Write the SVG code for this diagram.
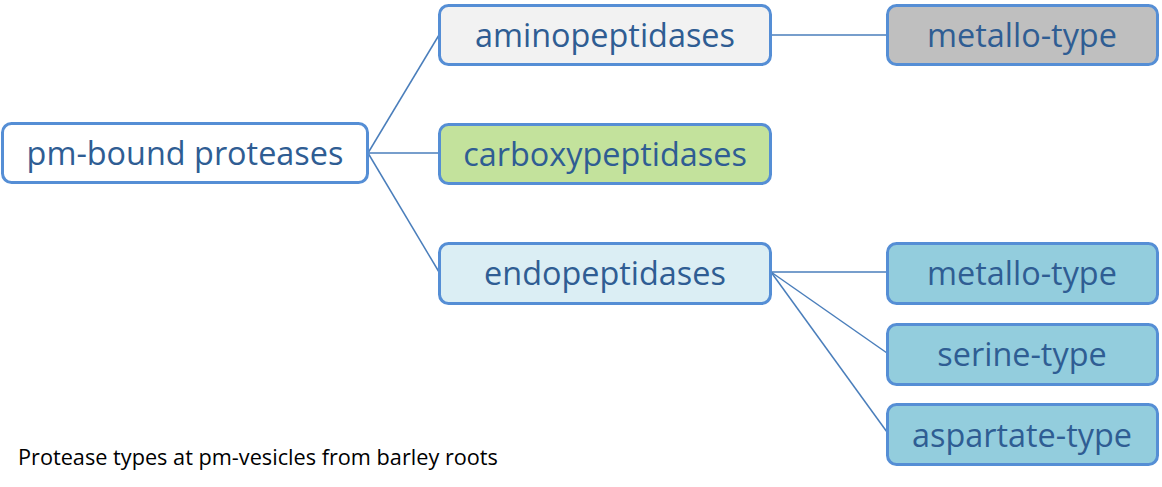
<svg xmlns="http://www.w3.org/2000/svg" width="1162" height="487" viewBox="0 0 1162 487">
<style>
.node rect{stroke:#558ED5;stroke-width:3}
.node text{font-family:"Open Sans","Liberation Sans",sans-serif;font-size:32.4px;fill:#2F5D93;text-anchor:middle}
.conn line{stroke:#4A7EBB;stroke-width:1.5}
.cap{font-family:"Open Sans","Liberation Sans",sans-serif;font-size:21.7px;fill:#000}
</style>
<rect width="1162" height="487" fill="#fff"/>
<g id="connectors" class="conn">
<line x1="368" y1="153" x2="439" y2="35"/>
<line x1="368" y1="153" x2="439" y2="153"/>
<line x1="368" y1="153" x2="439" y2="272"/>
<line x1="771" y1="35" x2="887" y2="35"/>
<line x1="771" y1="272" x2="887" y2="272"/>
<line x1="771" y1="272" x2="887" y2="353"/>
<line x1="771" y1="272" x2="887" y2="432"/>
</g>
<g id="root" class="node"><rect x="2.5" y="123.5" width="365" height="59" rx="9" fill="#fff"/><text x="185" y="165">pm-bound proteases</text></g>
<g id="aminopeptidases" class="node"><rect x="439.5" y="5.5" width="331" height="59" rx="9" fill="#F2F2F2"/><text x="605" y="47">aminopeptidases</text></g>
<g id="carboxypeptidases" class="node"><rect x="439.5" y="124.5" width="331" height="59" rx="9" fill="#C3E29C"/><text x="605" y="166">carboxypeptidases</text></g>
<g id="endopeptidases" class="node"><rect x="439.5" y="243.5" width="331" height="60" rx="9" fill="#DBEEF4"/><text x="605" y="285">endopeptidases</text></g>
<g id="metallo1" class="node"><rect x="887.5" y="5.5" width="270" height="59" rx="9" fill="#BFBFBF"/><text x="1022" y="47">metallo-type</text></g>
<g id="metallo2" class="node"><rect x="887.5" y="243.5" width="270" height="60" rx="9" fill="#93CDDD"/><text x="1022" y="285">metallo-type</text></g>
<g id="serine" class="node"><rect x="887.5" y="324.5" width="270" height="60" rx="9" fill="#93CDDD"/><text x="1022" y="366">serine-type</text></g>
<g id="aspartate" class="node"><rect x="887.5" y="404.5" width="270" height="60" rx="9" fill="#93CDDD"/><text x="1022" y="447">aspartate-type</text></g>
<text class="cap" x="18" y="465">Protease types at pm-vesicles from barley roots</text>
</svg>
